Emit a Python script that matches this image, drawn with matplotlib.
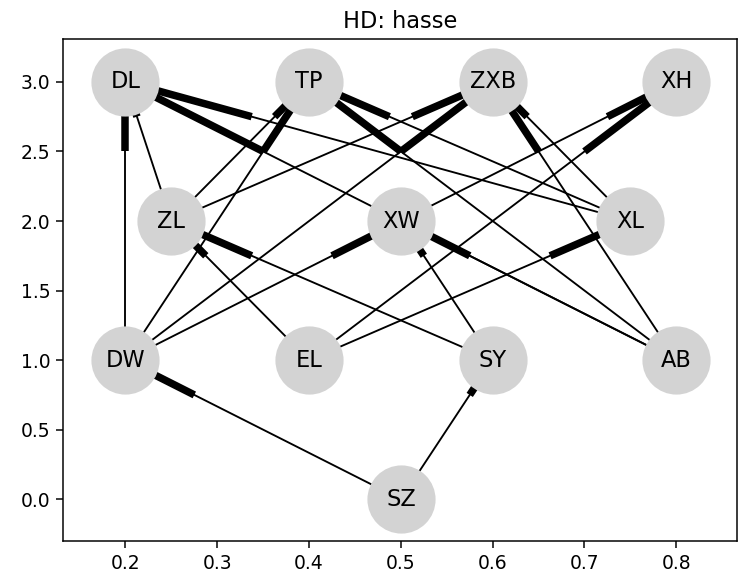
import numpy as np
import matplotlib
matplotlib.use("Agg")
import matplotlib.pyplot as plt
from matplotlib.collections import LineCollection

# node layout (hasse levels)
nodes = ["DL", "TP", "ZXB", "XH", "ZL", "XW", "XL", "DW", "EL", "SY", "AB", "SZ"]
node_x = [0.2, 0.4, 0.6, 0.8, 0.25, 0.5, 0.75, 0.2, 0.4, 0.6, 0.8, 0.5]
node_y = [3, 3, 3, 3, 2, 2, 2, 1, 1, 1, 1, 0]

# directed edges: source -> target (thick part drawn at target end)
edge_src = ["DW", "ZL", "XL", "AB",
            "DW", "ZL", "XL", "AB",
            "ZL", "DW", "AB", "XL",
            "XW", "EL",
            "SY", "EL",
            "DW", "AB", "SY",
            "EL",
            "SZ", "SZ"]
edge_dst = ["DL", "DL", "DL", "DL",
            "TP", "TP", "TP", "TP",
            "ZXB", "ZXB", "ZXB", "ZXB",
            "XH", "XH",
            "ZL", "ZL",
            "XW", "XW", "XW",
            "XL",
            "SY", "DW"]

pos = {n: (x, y) for n, x, y in zip(nodes, node_x, node_y)}

dpi = 135
fig = plt.figure(figsize=(740 / dpi, 574 / dpi), dpi=dpi)
ax = fig.add_axes([0.0858, 0.0575, 0.910, 0.874])

segs = []
heads = []
p = 0.75  # head segment is last 25 percent of edge
for s, t in zip(edge_src, edge_dst):
    (x1, y1), (x2, y2) = pos[s], pos[t]
    segs.append([(x1, y1), (x2, y2)])
    heads.append([(x1 + p * (x2 - x1), y1 + p * (y2 - y1)), (x2, y2)])

ax.add_collection(LineCollection(segs, colors="k", linewidths=1.0, zorder=1))
ax.add_collection(LineCollection(heads, colors="k", linewidths=4.0, zorder=1))

ax.scatter(node_x, node_y, s=1250, c="#d3d3d3", zorder=2)
for n, x, y in zip(nodes, node_x, node_y):
    ax.text(x, y, n, fontsize=12, ha="center", va="center", zorder=3)

ax.set_xlim(0.1325, 0.866)
ax.set_ylim(-0.30, 3.306)
ax.set_xticks([0.2, 0.3, 0.4, 0.5, 0.6, 0.7, 0.8])
ax.set_yticks([0.0, 0.5, 1.0, 1.5, 2.0, 2.5, 3.0])
ax.set_title("HD: hasse")

fig.savefig("out.png", dpi=dpi)
